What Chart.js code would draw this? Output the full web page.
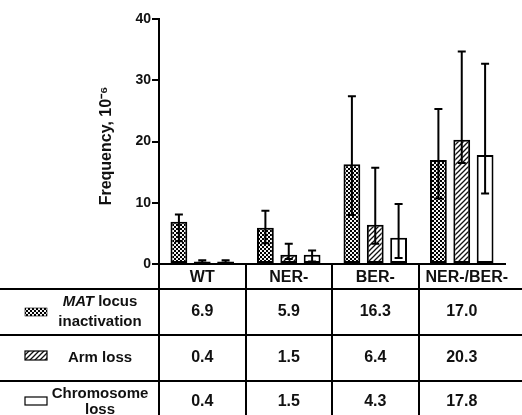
<!DOCTYPE html>
<html>
<head>
<meta charset="utf-8">
<script src="https://cdn.jsdelivr.net/npm/chart.js@4.4.1/dist/chart.umd.min.js"></script>
<style>
  html, body { margin: 0; background: #fff; }
  #wrap { width: 522px; height: 415px; position: relative; }
</style>
</head>
<body>
<div id="wrap"><canvas id="c"></canvas></div>
<script>
// data (frequency, x10^-6)
const strains   = ['WT', 'NER-', 'BER-', 'NER-/BER-'];
const matValues = [6.9, 5.9, 16.3, 17.0];
const armValues = [0.4, 1.5, 6.4, 20.3];
const chrValues = [0.4, 1.5, 4.3, 17.8];
// error bar ends (lower / upper)
const matLow  = [3.7, 3.4, 8.0, 10.7];
const matHigh = [8.1, 8.7, 27.4, 25.3];
const armLow  = [0.2, 0.8, 3.3, 16.5];
const armHigh = [0.6, 3.3, 15.7, 34.7];
const chrLow  = [0.2, 0.4, 1.0, 11.5];
const chrHigh = [0.6, 2.2, 9.8, 32.7];
const yTicks  = [0, 10, 20, 30, 40];

const FONT = "'Liberation Sans', Arial, sans-serif";
Chart.defaults.font.family = FONT;
Chart.defaults.color = '#111';

// fill patterns
function makePattern(kind) {
  const t = document.createElement('canvas');
  const c = t.getContext('2d');
  if (kind === 'check') {
    t.width = 4; t.height = 4;
    c.fillStyle = '#f4f4f4'; c.fillRect(0, 0, 4, 4);
    c.fillStyle = '#000';
    c.fillRect(0, 0, 2, 2); c.fillRect(2, 2, 2, 2);
  } else {
    t.width = 5; t.height = 5;
    c.fillStyle = '#fff'; c.fillRect(0, 0, 5, 5);
    c.strokeStyle = '#111'; c.lineWidth = 1.3;
    c.beginPath();
    c.moveTo(-1, 6); c.lineTo(6, -1);
    c.moveTo(-1, 1); c.lineTo(1, -1);
    c.moveTo(4, 6); c.lineTo(6, 4);
    c.stroke();
  }
  return document.createElement('canvas').getContext('2d').createPattern(t, 'repeat');
}
const checkFill = makePattern('check');
const hatchFill = makePattern('hatch');

const series = [
  { label: 'MAT locus inactivation', data: matValues, lo: matLow, hi: matHigh, fill: checkFill },
  { label: 'Arm loss', data: armValues, lo: armLow, hi: armHigh, fill: hatchFill },
  { label: 'Chromosome loss', data: chrValues, lo: chrLow, hi: chrHigh, fill: '#fff' }
];

const errorBars = {
  id: 'errorBars',
  afterDatasetsDraw(chart) {
    const ctx = chart.ctx, y = chart.scales.y;
    ctx.save();
    ctx.strokeStyle = '#000';
    ctx.lineWidth = 2;
    chart.data.datasets.forEach((ds, i) => {
      chart.getDatasetMeta(i).data.forEach((bar, j) => {
        const yl = y.getPixelForValue(ds.errLow[j]);
        const yh = y.getPixelForValue(ds.errHigh[j]);
        ctx.beginPath();
        ctx.moveTo(bar.x, yl); ctx.lineTo(bar.x, yh);
        ctx.moveTo(bar.x - 4, yh); ctx.lineTo(bar.x + 4, yh);
        ctx.moveTo(bar.x - 4, yl); ctx.lineTo(bar.x + 4, yl);
        ctx.stroke();
      });
    });
    ctx.restore();
  }
};

// the data table under the plot
const dataTable = {
  id: 'dataTable',
  afterDraw(chart) {
    const ctx = chart.ctx, x = chart.scales.x;
    const top = chart.chartArea.bottom;
    const W = chart.width;
    const lines = [top + 25, top + 71, top + 117];
    ctx.save();
    ctx.strokeStyle = '#000';
    ctx.lineWidth = 2;
    ctx.beginPath();
    lines.forEach(ly => { ctx.moveTo(0, ly); ctx.lineTo(W, ly); });
    ctx.stroke();

    ctx.fillStyle = '#111';
    ctx.textAlign = 'center';
    ctx.textBaseline = 'middle';
    ctx.font = 'bold 16px ' + FONT;
    strains.forEach((s, i) => ctx.fillText(s, x.getPixelForValue(i) + (i === 3 ? 5 : 0), top + 14));

    const rowMid = [top + 48, top + 94, top + 138];
    series.forEach((s, r) => {
      s.data.forEach((v, i) => ctx.fillText(v.toFixed(1), x.getPixelForValue(i), rowMid[r]));
    });

    // row labels
    const cx = 100;
    ctx.font = 'bold 15px ' + FONT;
    ctx.textAlign = 'left';
    const a = ctx.measureText(' locus').width;
    ctx.font = 'italic bold 15px ' + FONT;
    const m = ctx.measureText('MAT').width;
    const sx = cx - (a + m) / 2;
    ctx.fillText('MAT', sx, rowMid[0] - 10);
    ctx.font = 'bold 15px ' + FONT;
    ctx.fillText(' locus', sx + m, rowMid[0] - 10);
    ctx.textAlign = 'center';
    ctx.fillText('inactivation', cx, rowMid[0] + 10);
    ctx.fillText('Arm loss', cx, rowMid[1]);
    ctx.fillText('Chromosome', cx, rowMid[2] - 8);
    ctx.fillText('loss', cx, rowMid[2] + 8);

    // legend swatches
    const sw = [[rowMid[0] - 4, 8], [rowMid[1] - 7, 9], [rowMid[2] - 5, 8]];
    series.forEach((s, r) => {
      ctx.fillStyle = s.fill;
      ctx.fillRect(25, sw[r][0], 22, sw[r][1]);
      ctx.lineWidth = r === 0 ? 0.6 : 1.2;
      ctx.strokeRect(25, sw[r][0], 22, sw[r][1]);
    });
    ctx.restore();
  }
};

new Chart(document.getElementById('c'), {
  type: 'bar',
  data: {
    labels: strains,
    datasets: series.map(s => ({
      label: s.label,
      data: s.data,
      errLow: s.lo,
      errHigh: s.hi,
      backgroundColor: s.fill,
      borderColor: '#000',
      borderWidth: 2,
      borderSkipped: false,
      categoryPercentage: 0.81,
      barPercentage: 0.72
    }))
  },
  options: {
    responsive: true,
    maintainAspectRatio: false,
    animation: false,
    layout: { padding: { top: 19, right: 17, left: 0, bottom: 0 } },
    plugins: { legend: { display: false }, tooltip: { enabled: false } },
    scales: {
      x: {
        afterFit: s => { s.height = 151; },
        ticks: { display: false },
        border: { color: '#000', width: 2 },
        grid: {
          offset: true,
          drawOnChartArea: false,
          tickLength: 151,
          lineWidth: 2,
          color: c => c.type === 'tick' ? '#000' : 'rgba(0,0,0,0)'
        }
      },
      y: {
        min: 0, max: 40,
        afterFit: s => { s.width = 159; },
        afterBuildTicks: s => { s.ticks = yTicks.map(v => ({ value: v })); },
        ticks: { font: { size: 14, weight: 'bold' }, color: '#111', padding: 1 },
        border: { color: '#000', width: 2 },
        grid: { drawOnChartArea: false, tickLength: 7, lineWidth: 2, color: '#000' },
        title: {
          display: true,
          text: 'Frequency, 10\u207B\u2076  ',
          font: { size: 16, weight: 'bold' },
          color: '#111',
          padding: { top: 97, bottom: 0 }
        }
      }
    }
  },
  plugins: [errorBars, dataTable]
});
</script>
</body>
</html>
